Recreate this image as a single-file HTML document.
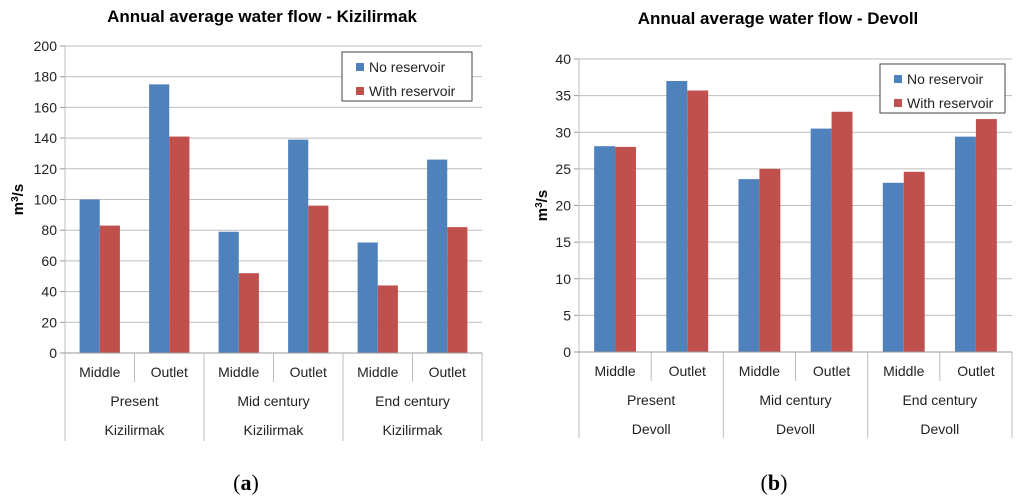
<!DOCTYPE html>
<html><head><meta charset="utf-8"><style>
body{margin:0;background:#fff;}
svg{display:block;font-family:"Liberation Sans",sans-serif;}
</style></head><body>
<svg id="c" width="1024" height="502"></svg>
<script>
const categories = ["Middle","Outlet","Middle","Outlet","Middle","Outlet"];
const periods = ["Present","Mid century","End century"];
const kizNo = [100,175,79,139,72,126];
const kizWith = [83,141,52,96,44,82];
const kizTicks = [0,20,40,60,80,100,120,140,160,180,200];
const devNo = [28.1,37,23.6,30.5,23.1,29.4];
const devWith = [28,35.7,25,32.8,24.6,31.8];
const devTicks = [0,5,10,15,20,25,30,35,40];
const seriesNames = ["No reservoir","With reservoir"];

const NS="http://www.w3.org/2000/svg";
const svg=document.getElementById('c');
function mk(tag,attrs,parent,text){const e=document.createElementNS(NS,tag);for(const k in attrs)e.setAttribute(k,attrs[k]);if(text!==undefined)e.textContent=text;(parent||svg).appendChild(e);return e;}

function chart(o){
  const g=mk('g',{});
  
  
  const maxV=o.ticks[o.ticks.length-1];
  const y=v=>o.y0-(v/maxV)*(o.y0-o.yTop);
  const cw=(o.x1-o.x0)/o.cats.length;
  const t=mk('text',{x:o.titleX,y:o.titleY,'text-anchor':'middle','font-size':17,'font-weight':'bold',fill:'#000'},g,o.title);
  
  
  o.ticks.forEach(v=>{
    const gl=mk('line',{x1:o.x0,x2:o.x1,y1:y(v),y2:y(v),stroke:'#bdbdbd','stroke-width':1},g);
    
    
    mk('line',{x1:o.x0-5,x2:o.x0,y1:y(v),y2:y(v),stroke:'#999'},g);
    const tl=mk('text',{x:o.x0-8,y:y(v)+5,'text-anchor':'end','font-size':14,fill:'#222'},g,v);
    
    
  });
  mk('line',{x1:o.x0,x2:o.x0,y1:o.yTop,y2:o.bottom,stroke:'#bdbdbd'},g);
  mk('line',{x1:o.x1,x2:o.x1,y1:o.y0,y2:o.bottom,stroke:'#bdbdbd'},g);
  const yt=mk('text',{transform:`translate(${o.yTitleX},${(o.yTop+o.y0)/2}) rotate(-90)`,'text-anchor':'middle','font-size':15,'font-weight':'bold'},g);
  
  
  mk('tspan',{},yt,'m');mk('tspan',{dy:-5,'font-size':10},yt,'3');mk('tspan',{dy:5},yt,'/s');
  const bw=cw*0.29;
  o.cats.forEach((c,i)=>{
    const cx=o.x0+cw*(i+0.5);
    const b1=mk('rect',{x:cx-bw,y:y(o.a[i]),width:bw,height:o.y0-y(o.a[i]),fill:'#4f81bd'},g);
    
    
    const b2=mk('rect',{x:cx,y:y(o.b[i]),width:bw,height:o.y0-y(o.b[i]),fill:'#c0504d'},g);
    
    
    const cl=mk('text',{x:cx,y:o.y0+24,'text-anchor':'middle','font-size':14,fill:'#222'},g,c);
    
    
    if(i%2==1) mk('line',{x1:o.x0+cw*i,x2:o.x0+cw*i,y1:o.y0,y2:o.y0+29,stroke:'#bdbdbd'},g);
  });
  mk('line',{x1:o.x0,x2:o.x1,y1:o.y0,y2:o.y0,stroke:'#999'},g);
  periods.forEach((p,j)=>{
    const cx=o.x0+cw*(2*j+1);
    const pl=mk('text',{x:cx,y:o.y0+53,'text-anchor':'middle','font-size':14,fill:'#222'},g,p);
    
    
    const rl=mk('text',{x:cx,y:o.y0+82,'text-anchor':'middle','font-size':14,fill:'#222'},g,o.river);
    
    
    if(j>0) mk('line',{x1:o.x0+cw*2*j,x2:o.x0+cw*2*j,y1:o.y0,y2:o.bottom,stroke:'#bdbdbd'},g);
  });
  const lg=mk('g',{},g);
  
  
  mk('rect',{x:o.lx,y:o.ly,width:o.lw,height:49,fill:'#fff',stroke:'#444'},lg);
  ['#4f81bd','#c0504d'].forEach((col,k)=>{
    mk('rect',{x:o.lx+14,y:o.ly+11+k*24,width:8,height:8,fill:col},lg);
    const le=mk('text',{x:o.lx+27,y:o.ly+20+k*24,'font-size':14,fill:'#222'},lg,seriesNames[k]);
    
    
  });
  const cap=mk('text',{x:o.capX,y:490,'text-anchor':'middle','font-size':22,'font-family':'Liberation Serif, serif'},g);
  
  
  mk('tspan',{},cap,'(');mk('tspan',{'font-weight':'bold'},cap,o.cap);mk('tspan',{},cap,')');
}
chart({name:'chart-kizilirmak',title:'Annual average water flow - Kizilirmak',river:'Kizilirmak',cats:categories,a:kizNo,b:kizWith,ticks:kizTicks,
  x0:65,x1:482,y0:353,yTop:46,bottom:441,titleX:262,titleY:22,yTitleX:23,lx:342,ly:52,lw:130,capX:246,cap:'a'});
chart({name:'chart-devoll',title:'Annual average water flow - Devoll',river:'Devoll',cats:categories,a:devNo,b:devWith,ticks:devTicks,
  x0:579,x1:1012,y0:352,yTop:59,bottom:438,titleX:778,titleY:24,yTitleX:547,lx:880,ly:64,lw:125,capX:774,cap:'b'});
</script>
</body></html>
